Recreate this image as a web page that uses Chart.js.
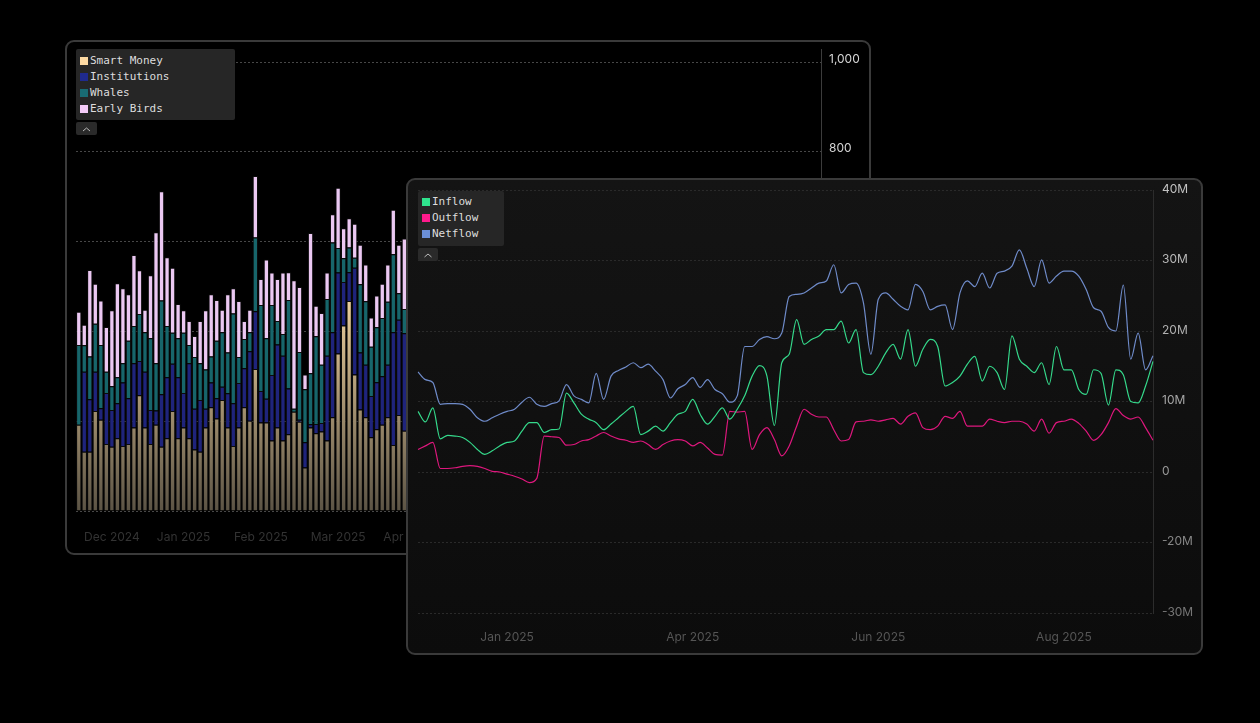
<!DOCTYPE html>
<html lang="en">
<head>
  <meta charset="UTF-8" />
  <title>Holder Cohorts &amp; Flows</title>
  <script src="https://cdn.jsdelivr.net/npm/chart.js"></script>
  <style>
    html, body { margin: 0; width: 1260px; height: 723px; background: #000; overflow: hidden; }
    .panel { position: absolute; box-sizing: border-box; border: 2px solid #3a3a3a; border-radius: 9px; overflow: hidden; }
    #back { left: 65px; top: 40px; width: 806px; height: 515px; background: #000; }
    #front { left: 406px; top: 178px; width: 797px; height: 477px; background: linear-gradient(#141414, #0c0c0c); }
    .panel canvas { position: absolute; left: 0; top: 0; }
    .legend { position: absolute; box-sizing: border-box; background: #262626; border-radius: 2px;
              font: 11px "DejaVu Sans Mono", monospace; color: #ddd; padding: 4px 4px; }
    .legend div { height: 16px; line-height: 16px; white-space: nowrap; }
    .legend i { display: inline-block; width: 8px; height: 8px; margin-right: 2px; vertical-align: -0.5px; }
    .toggle { position: absolute; width: 21px; height: 13px; background: #2a2a2a; border-radius: 2px; }
  </style>
</head>
<body>
  <div class="panel" id="back">
    <canvas id="barChart" width="802" height="511"></canvas>
    <div class="legend" style="left:9px; top:7px; width:159px; height:71px;">
      <div><i style="background:#fcd9a2"></i>Smart Money</div>
      <div><i style="background:#1f2a8e"></i>Institutions</div>
      <div><i style="background:#196b73"></i>Whales</div>
      <div><i style="background:#f4cbf8"></i>Early Birds</div>
    </div>
    <div class="toggle" style="left:9px; top:80px;">
      <svg width="21" height="13"><polyline points="7,8 10.5,5 14,8" fill="none" stroke="#bbb" stroke-width="1"/></svg>
    </div>
  </div>

  <div class="panel" id="front">
    <canvas id="flowChart" width="793" height="473"></canvas>
    <div class="legend" style="left:10px; top:11px; width:86px; height:55px; padding-top:3px;">
      <div><i style="background:#2fe38d"></i>Inflow</div>
      <div><i style="background:#ff1a8c"></i>Outflow</div>
      <div><i style="background:#6b8fd6"></i>Netflow</div>
    </div>
    <div class="toggle" style="left:10px; top:68px; width:20px;">
      <svg width="20" height="13"><polyline points="6.5,8 10,5 13.5,8" fill="none" stroke="#bbb" stroke-width="1"/></svg>
    </div>
  </div>

  <script>
    // ---- stacked bars (back panel) ----
    const smartMoney = [
      192, 132, 132, 223, 203, 149, 143, 162, 145, 149, 186, 258, 186, 149, 192, 143, 162, 223, 162, 186,
      162, 137, 132, 186, 231, 206, 247, 186, 145, 186, 231, 201, 316, 197, 197, 157, 186, 157, 171, 221,
      199, 97, 186, 173, 177, 157, 209, 351, 413, 468, 304, 226, 209, 164, 182, 192, 209, 147, 214, 179,
      196, 210, 174, 232, 188, 165, 201, 243, 219, 178, 156, 190, 226, 205, 171, 182, 214, 248, 195, 163,
      177, 208, 236, 199, 184, 158, 192, 221, 207, 176, 169, 188, 230, 212, 181, 160, 197, 225, 203, 174,
      186, 215, 241, 198, 167, 179, 206, 233, 210, 185, 162, 194, 222, 200, 173, 189, 217, 245, 196, 168,
      180, 209, 235, 204, 183, 159, 191, 224, 206, 175, 170, 187, 228, 211, 182
    ];
    const institutions = [
      0, 178, 117, 87, 26, 114, 82, 78, 141, 102, 143, 76, 124, 76, 32, 117, 136, 105, 136, 77,
      167, 91, 115, 42, 55, 45, 30, 76, 95, 99, 87, 155, 129, 70, 53, 146, 185, 189, 102, 0,
      4, 56, 7, 21, 19, 189, 189, 180, 97, 64, 238, 127, 117, 92, 105, 108, 117, 251, 212, 217,
      120, 95, 150, 88, 132, 170, 105, 78, 142, 160, 118, 99, 84, 137, 155, 126, 92, 70, 148, 165,
      110, 87, 75, 133, 158, 121, 96, 82, 140, 162, 115, 101, 79, 135, 152, 124, 90, 73, 145, 168,
      112, 89, 76, 131, 156, 119, 97, 81, 139, 161, 114, 100, 77, 134, 151, 123, 91, 72, 146, 167,
      111, 88, 74, 130, 157, 120, 98, 80, 138, 163, 116, 102, 78, 136, 153
    ];
    const whales = [
      178, 59, 95, 107, 141, 47, 53, 58, 43, 128, 83, 105, 88, 160, 105, 209, 114, 69, 87, 134,
      41, 115, 82, 87, 58, 128, 121, 91, 200, 58, 65, 42, 164, 192, 135, 156, 52, 48, 197, 7,
      151, 118, 114, 195, 130, 126, 200, 55, 53, 55, 22, 152, 141, 110, 122, 130, 140, 174, 59, 54,
      110, 135, 90, 125, 100, 80, 140, 115, 95, 105, 130, 120, 85, 110, 98, 140, 118, 92, 104, 88,
      126, 137, 96, 112, 102, 131, 119, 87, 108, 94, 128, 141, 99, 115, 100, 134, 122, 90, 106, 86,
      129, 138, 97, 113, 103, 132, 116, 89, 109, 95, 127, 139, 98, 114, 101, 133, 121, 91, 107, 87,
      130, 136, 94, 111, 99, 135, 117, 86, 105, 93, 125, 142, 100, 116, 104
    ];
    const earlyBirds = [
      74, 46, 193, 89, 99, 100, 169, 209, 167, 104, 158, 97, 50, 140, 292, 243, 153, 145, 76, 50,
      53, 47, 94, 132, 139, 91, 50, 130, 56, 125, 40, 50, 137, 58, 175, 72, 94, 137, 62, 286,
      145, 33, 312, 68, 115, 59, 63, 134, 67, 65, 76, 88, 82, 65, 71, 76, 83, 99, 108, 157,
      90, 70, 110, 85, 120, 95, 60, 100, 75, 115, 105, 80, 130, 65, 95, 88, 112, 72, 98, 118,
      83, 106, 92, 68, 124, 101, 77, 113, 89, 97, 116, 74, 103, 86, 121, 94, 69, 108, 82, 114,
      99, 76, 127, 87, 93, 111, 79, 104, 91, 117, 84, 71, 109, 96, 123, 102, 73, 107, 85, 119,
      100, 78, 125, 90, 94, 113, 81, 105, 88, 122, 97, 75, 111, 84, 118
    ];
    const barCategories = smartMoney.map((_, i) => i + 1);
    const barTickIndex = [6, 19, 33, 47, 60, 74, 88, 101, 115, 129];
    const barTickText = ['Dec 2024', 'Jan 2025', 'Feb 2025', 'Mar 2025', 'Apr 2025', 'May 2025', 'Jun 2025', 'Jul 2025', 'Aug 2025', 'Sep 2025'];
    const barYTicks = [0, 200, 400, 600, 800, 1000];

    // ---- flows (front panel), values in millions ----
    const inflow = [
      8.6, 7.1, 9.1, 4.7, 5.2, 5.1, 4.9, 4.2, 3.2, 2.5,
      3.0, 3.7, 4.2, 4.4, 5.8, 7.0, 7.0, 5.6, 6.0, 6.1,
      11.2, 9.8, 8.2, 7.5, 7.0, 6.0, 6.8, 7.7, 8.6, 9.3,
      5.3, 5.8, 6.5, 5.8, 7.0, 8.2, 8.6, 10.3, 8.2, 6.8,
      7.9, 9.1, 7.5, 8.9, 10.8, 13.6, 15.1, 13.6, 6.6, 15.5,
      16.7, 21.6, 18.1, 18.8, 19.3, 20.2, 20.2, 21.4, 18.3, 20.2,
      14.1, 13.8, 15.0, 16.9, 18.1, 16.0, 20.2, 15.0, 17.4, 18.8,
      17.8, 12.2, 12.7, 13.6, 15.3, 16.4, 12.9, 15.0, 14.1, 11.7,
      19.3, 16.0, 15.0, 14.1, 15.5, 12.4, 17.8, 14.5, 14.5, 11.7,
      11.0, 14.5, 14.0, 9.5, 14.5, 13.8, 10.0, 9.8, 12.2, 15.7
    ];
    const outflow = [
      3.2, 3.7, 4.2, 0.5, 0.5, 0.6, 0.8, 0.9, 0.8, 0.5,
      0.1, 0.0, -0.3, -0.6, -1.0, -1.5, -0.9, 5.1, 5.0, 4.9,
      3.8, 3.9, 4.4, 4.6, 5.1, 5.6, 5.1, 4.7, 4.5, 4.2,
      4.4, 3.9, 3.2, 3.9, 4.4, 4.6, 4.4, 3.7, 4.2, 3.4,
      2.5, 2.4, 8.6, 8.5, 8.6, 3.2, 5.3, 6.3, 4.6, 2.3,
      3.7, 6.5, 8.9, 8.2, 7.8, 7.8, 6.0, 4.4, 4.6, 7.1,
      7.2, 7.4, 7.2, 7.4, 7.6, 6.8, 7.9, 8.4, 6.3, 6.0,
      6.5, 7.9, 7.6, 8.6, 6.5, 6.5, 6.5, 7.5, 7.2, 7.0,
      7.2, 7.2, 6.8, 5.8, 7.5, 5.5, 7.0, 7.2, 7.5, 6.9,
      5.8, 4.5, 5.3, 7.0, 9.0, 8.0, 7.5, 7.8, 6.3, 4.5
    ];
    const netflow = [
      14.2, 13.1, 12.7, 9.6, 9.7, 9.7, 9.6, 8.9, 7.7, 7.2,
      7.7, 8.2, 8.6, 8.9, 9.9, 10.6, 9.6, 9.3, 9.7, 10.1,
      12.4, 10.8, 10.3, 9.8, 14.0, 10.3, 13.6, 14.4, 14.9, 15.5,
      14.8, 15.3, 14.3, 13.1, 10.5, 11.8, 12.4, 13.4, 12.0, 13.1,
      11.7, 11.1, 9.9, 10.8, 17.8, 17.8, 18.8, 19.2, 18.9, 19.7,
      24.9, 25.2, 25.4, 26.1, 26.8, 27.1, 29.4, 25.4, 26.6, 26.8,
      24.0, 16.7, 24.5, 25.4, 24.5, 23.5, 23.0, 26.6, 25.6, 23.0,
      23.5, 23.7, 20.2, 25.4, 27.1, 26.3, 28.2, 26.1, 28.2, 28.5,
      29.2, 31.5, 28.9, 26.3, 30.1, 26.8, 27.8, 28.5, 28.5, 27.8,
      25.9, 23.3, 22.8, 20.5, 20.0, 26.5, 16.0, 19.7, 14.5, 16.5
    ];
    const flowCategories = inflow.map((_, i) => i + 1);
    const flowTickIndex = [12, 37, 62, 87];
    const flowTickText = ['Jan 2025', 'Apr 2025', 'Jun 2025', 'Aug 2025'];
    const flowYTicks = [-20, -10, 0, 10, 20, 30, 40];
    const flowYTickText = ['-30M', '-20M', '0', '10M', '20M', '30M', '40M'];

    const tickFont = { family: 'Inter', size: 12 };

    function tanFill(ctx) {
      const chart = ctx.chart;
      const y = chart.scales.y;
      if (!chart.chartArea || !y) return '#a8977a';
      const g = chart.ctx.createLinearGradient(0, y.getPixelForValue(480), 0, y.getPixelForValue(0));
      g.addColorStop(0, '#efd19e');
      g.addColorStop(1, '#5c5445');
      return g;
    }

    // keep the chart area where the layout padding puts it
    const noEdgePad = s => { s.paddingLeft = 0; s.paddingRight = 0; s.paddingTop = 0; s.paddingBottom = 0; };

    const barBase = { borderColor: '#0b0b0b', borderWidth: 1, barPercentage: 0.96, categoryPercentage: 1 };

    new Chart(document.getElementById('barChart').getContext('2d'), {
      type: 'bar',
      data: {
        labels: barCategories,
        datasets: [
          { label: 'Smart Money', data: smartMoney, backgroundColor: tanFill, ...barBase },
          { label: 'Institutions', data: institutions, backgroundColor: '#1f247c', ...barBase },
          { label: 'Whales', data: whales, backgroundColor: '#17666b', ...barBase },
          { label: 'Early Birds', data: earlyBirds, backgroundColor: '#ebc8f2', ...barBase }
        ]
      },
      options: {
        responsive: false,
        animation: false,
        layout: { padding: { left: 9, top: 7, right: 0, bottom: 0 } },
        plugins: { legend: { display: false }, tooltip: { enabled: false } },
        scales: {
          x: {
            stacked: true,
            grid: { display: false, drawTicks: false },
            border: { display: false },
            afterFit: s => { s.height = 42; noEdgePad(s); },
            ticks: {
              autoSkip: false, maxRotation: 0, padding: 19, color: '#333333', font: tickFont,
              callback: (v, i) => { const k = barTickIndex.indexOf(i); return k < 0 ? '' : barTickText[k]; }
            }
          },
          y: {
            stacked: true,
            position: 'right',
            min: 0,
            max: 1029,
            afterBuildTicks: s => { s.ticks = barYTicks.map(v => ({ value: v })); },
            afterFit: s => { s.width = 48; noEdgePad(s); },
            grid: { color: '#474747', drawTicks: false },
            border: { display: true, color: '#3c3c3c', dash: [2, 2] },
            ticks: {
              padding: 8, labelOffset: -3, color: '#d6d6d6', font: tickFont,
              callback: v => v.toLocaleString('en-US')
            }
          }
        }
      }
    });

    const lineBase = { borderWidth: 1.2, pointRadius: 0, cubicInterpolationMode: 'monotone', fill: false };
    const flowTickColors = ['#767676', '#878787', '#999999', '#a6a6a6', '#b0b0b0', '#b9b9b9', '#c2c2c2'];

    new Chart(document.getElementById('flowChart').getContext('2d'), {
      type: 'line',
      data: {
        labels: flowCategories,
        datasets: [
          { label: 'Inflow', data: inflow, borderColor: '#35d98b', ...lineBase },
          { label: 'Outflow', data: outflow, borderColor: '#de177d', ...lineBase },
          { label: 'Netflow', data: netflow, borderColor: '#6f8bc9', ...lineBase }
        ]
      },
      options: {
        responsive: false,
        animation: false,
        layout: { padding: { left: 10, top: 10, right: 0, bottom: 0 } },
        plugins: { legend: { display: false }, tooltip: { enabled: false } },
        scales: {
          x: {
            grid: { display: false, drawTicks: false },
            border: { display: false },
            afterFit: s => { s.height = 40; noEdgePad(s); },
            ticks: {
              autoSkip: false, maxRotation: 0, padding: 17, color: '#555555', font: tickFont,
              callback: (v, i) => { const k = flowTickIndex.indexOf(i); return k < 0 ? '' : flowTickText[k]; }
            }
          },
          y: {
            position: 'right',
            min: -20,
            max: 40,
            afterBuildTicks: s => { s.ticks = flowYTicks.map(v => ({ value: v })); },
            afterFit: s => { s.width = 48; noEdgePad(s); },
            grid: { color: '#2a2a2a', drawTicks: false },
            border: { display: true, color: '#2c2c2c', dash: [2, 2] },
            ticks: {
              padding: 9, labelOffset: -1, font: tickFont,
              color: c => flowTickColors[c.index],
              callback: (v, i) => flowYTickText[i]
            }
          }
        }
      }
    });
  </script>
</body>
</html>
